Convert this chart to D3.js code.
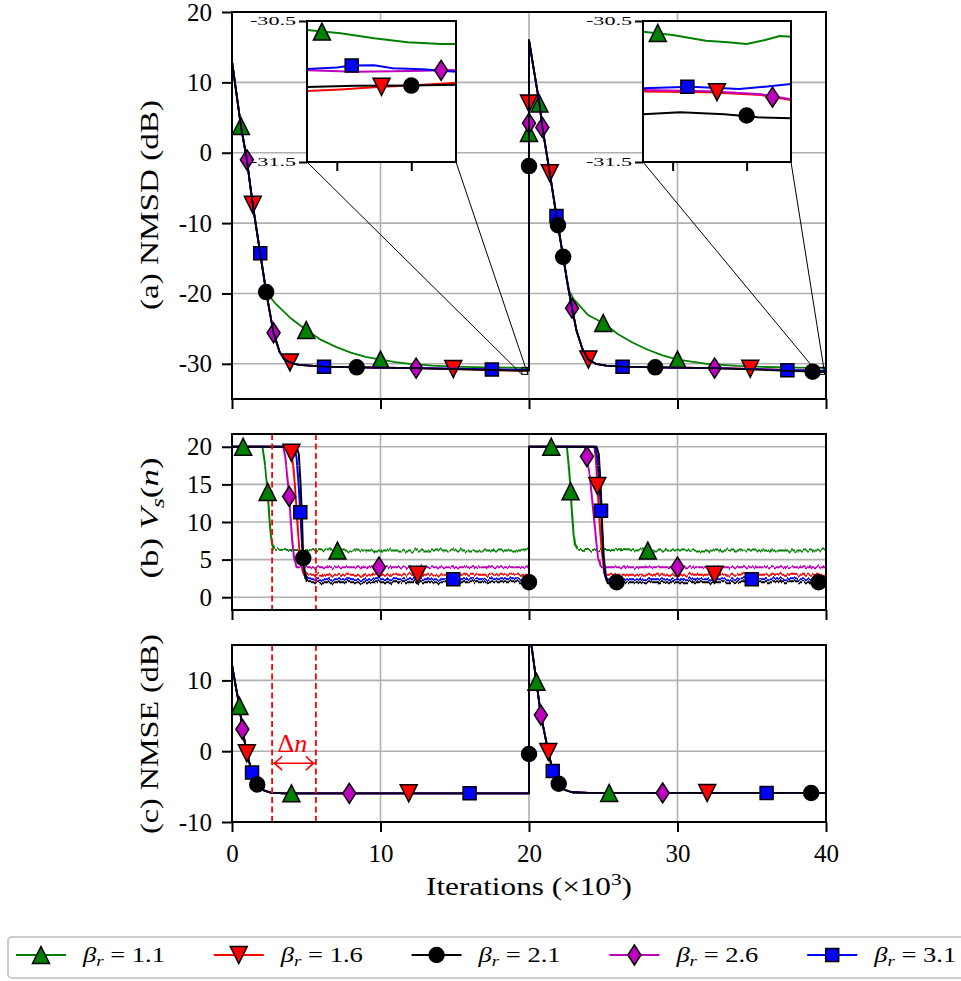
<!DOCTYPE html>
<html>
<head>
<meta charset="utf-8">
<script src="https://cdn.jsdelivr.net/npm/d3@7"></script>
<style>
  body { margin: 0; background: #ffffff; }
  svg { display: block; }
</style>
</head>
<body>
<svg id="chart" width="961" height="981"></svg>
<script>
// ---------- series identity ----------
const BETA_LABELS = ["1.1", "1.6", "2.1", "2.6", "3.1"];
const COLORS = ["#008000", "#ff0000", "#000000", "#bf00bf", "#0000ff"];
const MARKERS = ["up", "down", "circle", "diamond", "square"];
const DRAW_ORDER = [0, 1, 3, 4, 2];

// ---------- ticks ----------
const ITER_TICKS = [0, 10, 20, 30, 40];
const NMSD_TICKS = [-30, -20, -10, 0, 10, 20];
const VS_TICKS = [0, 5, 10, 15, 20];
const NMSE_TICKS = [-10, 0, 10];
const INSET_Y_TICKS = [-30.5, -31.5];
const INSET_LEFT_X_TICKS = [19.6, 19.8];
const INSET_RIGHT_X_TICKS = [39.6, 39.8];
const DELTA_N_BOUNDS = [2.7, 5.65];

// ---------- (a) NMSD, x in thousands of iterations ----------
const nmsdDecayFirst = [[0,13.0],[0.3,8.4],[0.6,3.8],[1.0,-1.0],[1.4,-7.4],[1.9,-14.3],[2.3,-19.8],[2.8,-25.6],[3.2,-28.3],[3.5,-29.3],[3.9,-29.8],[4.5,-30.15],[5.5,-30.3],[6.2,-30.4],[8.4,-30.5],[10,-30.55],[12.4,-30.6]];
const nmsdDecaySecond = [[20,16.0],[20.35,11.5],[20.7,7.0],[20.9,3.6],[21.4,-2.9],[21.85,-9.0],[21.95,-10.3],[22.3,-14.8],[22.6,-18.7],[22.9,-22.1],[23.2,-25.3],[23.6,-27.9],[24.0,-29.4],[24.5,-30.0],[25.2,-30.25],[26.3,-30.4],[28.5,-30.5],[30,-30.55],[32.5,-30.6]];

const nmsdTailFirstRed = [[14.9,-30.75],[17.5,-30.9],[19.52,-31.0],[19.92,-30.94],[20,-30.94]];
const nmsdTailFirstBlack = [[15,-30.75],[17.5,-30.88],[19.52,-30.97],[19.92,-30.95],[20,-30.95]];
const nmsdTailFirstMagenta = [[15,-30.7],[17.5,-30.8],[19.52,-30.85],[19.92,-30.85],[20,-30.85]];
const nmsdTailFirstBlue = [[15,-30.7],[17.5,-30.8],[19.52,-30.84],[19.92,-30.86],[20,-30.86]];
const nmsdTailSecondRed = [[34.9,-30.7],[37.4,-30.85],[39.52,-31.0],[39.92,-31.06],[40,-31.06]];
const nmsdTailSecondBlack = [[35,-30.8],[37.4,-31.0],[39.1,-31.12],[39.52,-31.16],[39.92,-31.19],[40,-31.19]];
const nmsdTailSecondMagenta = [[35,-30.75],[37.4,-30.9],[39.52,-30.99],[39.92,-31.055],[40,-31.055]];
const nmsdTailSecondBlue = [[35,-30.75],[37.4,-30.9],[39.52,-30.98],[39.92,-30.95],[40,-30.95]];

const nmsdGreen = [[0,13.0],[0.3,8.4],[0.6,3.8],[1.0,-1.0],[1.4,-7.4],[1.9,-14.3],[2.3,-19.6],[2.6,-20.6],[3.0,-21.6],[4.0,-23.6],[5.0,-25.2],[6,-26.6],[7,-27.6],[8,-28.4],[9,-29.0],[10,-29.4],[11,-29.75],[12,-30.0],[13.5,-30.25],[15,-30.4],[17,-30.5],[19.52,-30.564],[19.92,-30.663],[20,-30.66],
  [20,16.0],[20.35,11.5],[20.7,7.0],[20.9,3.6],[21.4,-2.9],[21.9,-9.6],[22.3,-14.8],[22.7,-19.6],[23.0,-20.8],[24.0,-23.1],[25.0,-24.2],[26,-25.8],[27,-27.0],[28,-28.0],[29,-28.8],[30,-29.4],[32,-30.0],[34,-30.3],[36,-30.45],[38,-30.55],[39.52,-30.576],[39.92,-30.611],[40,-30.61]];
const nmsdRed = [...nmsdDecayFirst, ...nmsdTailFirstRed, ...nmsdDecaySecond, ...nmsdTailSecondRed];
const nmsdBlack = [...nmsdDecayFirst, ...nmsdTailFirstBlack, ...nmsdDecaySecond, ...nmsdTailSecondBlack];
const nmsdMagenta = [...nmsdDecayFirst, ...nmsdTailFirstMagenta, ...nmsdDecaySecond, ...nmsdTailSecondMagenta];
const nmsdBlue = [...nmsdDecayFirst, ...nmsdTailFirstBlue, ...nmsdDecaySecond, ...nmsdTailSecondBlue];

const nmsdMarksGreen = [[0.6,3.8],[5.0,-25.2],[10.0,-29.4],[20,2.8],[20.7,7.0],[25.0,-24.2],[30.0,-29.4]];
const nmsdMarksRed = [[1.4,-7.4],[3.9,-29.8],[14.9,-30.75],[20,7.0],[21.4,-2.9],[24.0,-29.4],[34.9,-30.7]];
const nmsdMarksBlack = [[2.3,-19.8],[8.4,-30.5],[20,-1.9],[21.95,-10.3],[22.3,-14.8],[28.5,-30.5],[39.1,-31.12]];
const nmsdMarksMagenta = [[1.0,-1.0],[2.8,-25.6],[12.4,-30.6],[20,4.2],[20.9,3.6],[22.9,-22.1],[32.5,-30.6]];
const nmsdMarksBlue = [[1.9,-14.3],[6.2,-30.4],[17.5,-30.8],[21.85,-9.0],[26.3,-30.4],[37.4,-30.9]];

// ---------- (a) zoomed windows ----------
const zoomLeftGreen = [[19.52,-30.564],[19.61,-30.587],[19.70,-30.623],[19.79,-30.651],[19.88,-30.663],[19.92,-30.663]];
const zoomLeftRed = [[19.52,-30.996],[19.61,-30.985],[19.71,-30.968],[19.81,-30.955],[19.92,-30.938]];
const zoomLeftBlack = [[19.52,-30.968],[19.65,-30.96],[19.80,-30.958],[19.92,-30.952]];
const zoomLeftMagenta = [[19.52,-30.85],[19.65,-30.86],[19.80,-30.855],[19.92,-30.848]];
const zoomLeftBlue = [[19.52,-30.84],[19.60,-30.83],[19.64,-30.815],[19.70,-30.814],[19.75,-30.835],[19.83,-30.843],[19.92,-30.86]];
const zoomLeftMarks = [[[19.56,-30.575]],[[19.72,-30.967]],[[19.80,-30.958]],[[19.88,-30.85]],[[19.64,-30.815]]];

const zoomRightGreen = [[39.52,-30.576],[39.60,-30.599],[39.69,-30.64],[39.75,-30.651],[39.80,-30.663],[39.85,-30.635],[39.89,-30.606],[39.92,-30.611]];
const zoomRightRed = [[39.52,-31.0],[39.70,-31.005],[39.84,-31.025],[39.92,-31.06]];
const zoomRightBlack = [[39.52,-31.162],[39.62,-31.148],[39.74,-31.162],[39.83,-31.183],[39.92,-31.19]];
const zoomRightMagenta = [[39.52,-30.99],[39.70,-30.999],[39.84,-31.02],[39.92,-31.055]];
const zoomRightBlue = [[39.52,-30.977],[39.65,-30.966],[39.78,-30.982],[39.85,-30.966],[39.92,-30.947]];
const zoomRightMarks = [[[39.56,-30.585]],[[39.72,-31.005]],[[39.80,-31.17]],[[39.87,-31.04]],[[39.64,-30.967]]];

// ---------- (b) V_s(n) ----------
const vsGreen = [[0,20],[0.75,20],[2.05,20],[2.2,18],[2.4,14.0],[2.5,11],[2.6,8.5],[2.7,7],[2.85,6.3],[7.1,6.2],[20,6.2],[20,20],[21.5,20],[22.55,20],[22.7,17],[22.8,14.1],[22.9,11],[23.0,8.5],[23.1,7],[23.25,6.3],[28.0,6.2],[40,6.2]];
const vsRed = [[0,20],[3.85,20],[4.0,19.2],[4.15,17],[4.3,13],[4.45,8.5],[4.6,5],[4.75,3.4],[4.9,3.0],[12.5,3.0],[20,3.0],[20,20],[24.4,20],[24.5,18.5],[24.6,14.8],[24.75,10],[24.9,6],[25.05,3.6],[25.2,3.0],[32.5,3.0],[40,3.0]];
const vsBlack = [[0,20],[4.35,20],[4.5,19],[4.62,15],[4.72,10],[4.8,5.2],[4.9,3.2],[5.05,2.0],[20,2.0],[20,20],[24.55,20],[24.7,19],[24.82,15],[24.92,10],[25.0,5.5],[25.12,3],[25.3,2.0],[25.9,2.0],[39.5,2.0],[40,2.0]];
const vsMagenta = [[0,20],[3.45,20],[3.6,18.5],[3.75,15.5],[3.85,13.4],[3.95,10.5],[4.05,7.5],[4.2,5],[4.35,4.0],[9.9,4.0],[20,4.0],[20,20],[23.75,20],[23.9,18.7],[24.1,16],[24.3,12],[24.5,8],[24.65,5.3],[24.85,4.0],[30.0,4.0],[40,4.0]];
const vsBlue = [[0,20],[4.2,20],[4.35,18.5],[4.5,14.5],[4.6,11.3],[4.7,7.5],[4.8,4.5],[4.95,2.6],[5.05,2.4],[14.9,2.4],[20,2.4],[20,20],[24.45,20],[24.6,18.5],[24.75,14.5],[24.85,11.5],[24.95,8],[25.05,5],[25.2,2.6],[25.3,2.4],[35.0,2.4],[40,2.4]];

const vsMarksGreen = [[0.75,20],[2.4,14.0],[7.1,6.2],[21.5,20],[22.8,14.1],[28.0,6.2]];
const vsMarksRed = [[4.0,19.2],[12.5,3.0],[24.6,14.8],[32.5,3.0]];
const vsMarksBlack = [[4.8,5.2],[20,2.0],[25.9,2.0],[39.5,2.0]];
const vsMarksMagenta = [[3.85,13.4],[9.9,4.0],[23.9,18.7],[30.0,4.0]];
const vsMarksBlue = [[4.6,11.3],[14.9,2.4],[24.85,11.5],[35.0,2.4]];

// ---------- (c) NMSE ----------
const nmseCurve = [[0,12.2],[0.25,9.2],[0.5,6.4],[0.7,3.1],[1.0,-0.3],[1.35,-3.0],[1.7,-4.7],[2.1,-5.5],[2.6,-5.85],[3.5,-5.95],[20,-5.95],[20,17.5],[20.5,9.8],[20.8,5.1],[21.3,-0.1],[21.6,-2.8],[22.0,-4.6],[22.4,-5.45],[22.9,-5.8],[24,-5.9],[40,-5.9]];
const nmseMarksGreen = [[0.5,6.4],[4.0,-5.95],[20.5,9.8],[25.4,-5.9]];
const nmseMarksRed = [[1.0,-0.3],[11.9,-5.95],[21.3,-0.1],[32.0,-5.9]];
const nmseMarksBlack = [[1.7,-4.7],[20,-0.4],[22.0,-4.6],[39.0,-5.9]];
const nmseMarksMagenta = [[0.7,3.1],[7.9,-5.95],[20.8,5.1],[29.0,-5.9]];
const nmseMarksBlue = [[1.35,-3.0],[16.0,-5.95],[21.6,-2.8],[36.0,-5.9]];

// ---------- drawing ----------
const FONT = "'Liberation Serif','Times New Roman',serif";
const svg = d3.select("#chart");
const defs = svg.append("defs");

const x = d3.scaleLinear().domain([0, 40]).range([232, 826]);
const panelA = { id: "pa", top: 12, bottom: 399, y: d3.scaleLinear().domain([-35, 20]).range([399, 12]), ticks: NMSD_TICKS };
const panelB = { id: "pb", top: 434, bottom: 610, y: d3.scaleLinear().domain([-1.7, 21.7]).range([610, 434]), ticks: VS_TICKS };
const panelC = { id: "pc", top: 645, bottom: 822, y: d3.scaleLinear().domain([-10, 15]).range([822, 645]), ticks: NMSE_TICKS };

function markerPath(kind) {
  switch (kind) {
    case "up": return "M0,-8.5L8.5,8.5L-8.5,8.5Z";
    case "down": return "M0,8.5L8.5,-8.5L-8.5,-8.5Z";
    case "circle": return d3.symbol(d3.symbolCircle, Math.PI * 7.5 * 7.5)();
    case "diamond": return "M0,-10L6.5,0L0,10L-6.5,0Z";
    default: return "M-6.5,-6.5H6.5V6.5H-6.5Z";
  }
}

function drawMarkers(g, pts, xs, ys, i) {
  g.append("g").selectAll("path").data(pts).join("path")
    .attr("d", markerPath(MARKERS[i]))
    .attr("transform", d => `translate(${xs(d[0])},${ys(d[1])})`)
    .attr("fill", COLORS[i]).attr("stroke", "#000").attr("stroke-width", 1.5)
    .attr("stroke-linejoin", "miter");
}

function panelBase(p) {
  defs.append("clipPath").attr("id", p.id + "clip").append("rect")
    .attr("x", x(0)).attr("y", p.top).attr("width", x(40) - x(0)).attr("height", p.bottom - p.top);
  const grid = svg.append("g").attr("stroke", "#b0b0b0").attr("stroke-width", 1.6);
  grid.selectAll(".gx").data(ITER_TICKS).join("line").attr("class", "gx")
    .attr("x1", d => x(d)).attr("x2", d => x(d)).attr("y1", p.top).attr("y2", p.bottom);
  grid.selectAll(".gy").data(p.ticks).join("line").attr("class", "gy")
    .attr("x1", x(0)).attr("x2", x(40)).attr("y1", d => p.y(d)).attr("y2", d => p.y(d));
  return svg.append("g").attr("clip-path", `url(#${p.id}clip)`);
}

function panelAxes(p, showXLabels, label, labelLen) {
  svg.append("rect").attr("x", x(0)).attr("y", p.top).attr("width", x(40) - x(0)).attr("height", p.bottom - p.top)
    .attr("fill", "none").attr("stroke", "#000").attr("stroke-width", 2);
  const ay = svg.append("g").attr("transform", `translate(${x(0)},0)`)
    .call(d3.axisLeft(p.y).tickValues(p.ticks).tickSize(10).tickPadding(10).tickFormat(d => String(d)));
  const ax = svg.append("g").attr("transform", `translate(0,${p.bottom})`)
    .call(d3.axisBottom(x).tickValues(ITER_TICKS).tickSize(10).tickPadding(12).tickFormat(showXLabels ? (d => String(d)) : () => ""));
  [ay, ax].forEach(a => {
    a.select(".domain").remove();
    a.attr("font-family", FONT).attr("font-size", 25);
    a.selectAll("line").attr("stroke", "#000").attr("stroke-width", 2);
    a.selectAll("text").attr("fill", "#000");
  });
  const t = svg.append("text")
    .attr("transform", `translate(158,${label.cy}) rotate(-90)`)
    .attr("text-anchor", "middle").attr("font-family", FONT).attr("font-size", 25)
    .attr("textLength", labelLen).attr("lengthAdjust", "spacingAndGlyphs");
  label.parts.forEach(pt => {
    const s = t.append("tspan").text(pt.t);
    if (pt.i) s.attr("font-style", "italic");
    if (pt.sub) s.attr("font-size", 18).attr("dy", 6);
    if (pt.up) s.attr("dy", -6);
  });
}

// ---- panel (a)
const ga = panelBase(panelA);
const lineA = d3.line().x(d => x(d[0])).y(d => panelA.y(d[1]));
const nmsdLines = [nmsdGreen, nmsdRed, nmsdBlack, nmsdMagenta, nmsdBlue];
const nmsdMarks = [nmsdMarksGreen, nmsdMarksRed, nmsdMarksBlack, nmsdMarksMagenta, nmsdMarksBlue];
DRAW_ORDER.forEach(i => {
  ga.append("path").attr("d", lineA(nmsdLines[i])).attr("fill", "none")
    .attr("stroke", COLORS[i]).attr("stroke-width", 1.8).attr("stroke-linejoin", "round");
  drawMarkers(ga, nmsdMarks[i], x, panelA.y, i);
});
panelAxes(panelA, false, { cy: 205, parts: [{ t: "(a) NMSD (dB)" }] }, 210);

// zoomed windows with their connectors
const insets = [
  { x0: 307, x1: 456, dom: [19.52, 19.92], ticks: INSET_LEFT_X_TICKS,
    lines: [zoomLeftGreen, zoomLeftRed, zoomLeftBlack, zoomLeftMagenta, zoomLeftBlue], marks: zoomLeftMarks },
  { x0: 643, x1: 791, dom: [39.52, 39.92], ticks: INSET_RIGHT_X_TICKS,
    lines: [zoomRightGreen, zoomRightRed, zoomRightBlack, zoomRightMagenta, zoomRightBlue], marks: zoomRightMarks }
];
const insetTop = 21, insetBottom = 162;
insets.forEach((ins, k) => {
  const rx0 = x(ins.dom[0]), rx1 = x(ins.dom[1]);
  const ry0 = panelA.y(-30.5), ry1 = panelA.y(-31.5);
  svg.append("rect").attr("x", rx0).attr("y", ry0).attr("width", rx1 - rx0).attr("height", ry1 - ry0)
    .attr("fill", "none").attr("stroke", "#000").attr("stroke-width", 1);
  svg.append("line").attr("x1", ins.x0).attr("y1", insetBottom).attr("x2", rx0).attr("y2", ry1)
    .attr("stroke", "#000").attr("stroke-width", 1);
  svg.append("line").attr("x1", ins.x1).attr("y1", insetBottom).attr("x2", rx1).attr("y2", ry1)
    .attr("stroke", "#000").attr("stroke-width", 1);

  const xi = d3.scaleLinear().domain(ins.dom).range([ins.x0, ins.x1]);
  const yi = d3.scaleLinear().domain([-31.5, -30.5]).range([insetBottom, insetTop]);
  svg.append("rect").attr("x", ins.x0).attr("y", insetTop).attr("width", ins.x1 - ins.x0).attr("height", insetBottom - insetTop)
    .attr("fill", "#fff");
  defs.append("clipPath").attr("id", "inset" + k).append("rect")
    .attr("x", ins.x0).attr("y", insetTop).attr("width", ins.x1 - ins.x0).attr("height", insetBottom - insetTop);
  const gi = svg.append("g").attr("clip-path", `url(#inset${k})`);
  const li = d3.line().x(d => xi(d[0])).y(d => yi(d[1]));
  DRAW_ORDER.forEach(i => {
    gi.append("path").attr("d", li(ins.lines[i])).attr("fill", "none")
      .attr("stroke", COLORS[i]).attr("stroke-width", 2).attr("stroke-linejoin", "round");
  });
  DRAW_ORDER.forEach(i => drawMarkers(gi, ins.marks[i], xi, yi, i));
  svg.append("rect").attr("x", ins.x0).attr("y", insetTop).attr("width", ins.x1 - ins.x0).attr("height", insetBottom - insetTop)
    .attr("fill", "none").attr("stroke", "#000").attr("stroke-width", 2);
  const iy = svg.append("g").attr("transform", `translate(${ins.x0},0)`)
    .call(d3.axisLeft(yi).tickValues(INSET_Y_TICKS).tickSize(8).tickPadding(3).tickFormat(d => d.toFixed(1)));
  const ix = svg.append("g").attr("transform", `translate(0,${insetBottom})`)
    .call(d3.axisBottom(xi).tickValues(ins.ticks).tickSize(9).tickFormat(() => ""));
  [iy, ix].forEach(a => {
    a.select(".domain").remove();
    a.selectAll("line").attr("stroke", "#000").attr("stroke-width", 2);
  });
  iy.selectAll("text").attr("font-family", FONT).attr("font-size", 12).attr("fill", "#000")
    .attr("textLength", 46).attr("lengthAdjust", "spacingAndGlyphs");
});

// ---- panel (b)
const gb = panelBase(panelB);
const flt = defs.append("filter").attr("id", "vsJitter")
  .attr("x", "-2%").attr("y", "-30%").attr("width", "104%").attr("height", "160%")
  .attr("color-interpolation-filters", "sRGB");
flt.append("feTurbulence").attr("type", "fractalNoise").attr("baseFrequency", "0.35 0.03")
  .attr("numOctaves", 2).attr("seed", 7).attr("result", "noise");
flt.append("feColorMatrix").attr("in", "noise").attr("type", "matrix")
  .attr("values", "0 0 0 0 0.5  0 1 0 0 0  0 0 0 0 0  0 0 0 0 1").attr("result", "shift");
flt.append("feDisplacementMap").attr("in", "SourceGraphic").attr("in2", "shift").attr("scale", 6)
  .attr("xChannelSelector", "R").attr("yChannelSelector", "G");

const splitY = panelB.y(17.5);
defs.append("clipPath").attr("id", "vsUpper").append("rect")
  .attr("x", x(0)).attr("y", panelB.top).attr("width", x(40) - x(0)).attr("height", splitY - panelB.top);
defs.append("clipPath").attr("id", "vsLower").append("rect")
  .attr("x", x(0)).attr("y", splitY).attr("width", x(40) - x(0)).attr("height", panelB.bottom - splitY);

const lineB = d3.line().x(d => x(d[0])).y(d => panelB.y(d[1]));
const vsLines = [vsGreen, vsRed, vsBlack, vsMagenta, vsBlue];
const vsMarks = [vsMarksGreen, vsMarksRed, vsMarksBlack, vsMarksMagenta, vsMarksBlue];
const upper = gb.append("g").attr("clip-path", "url(#vsUpper)");
const lowerOuter = gb.append("g").attr("clip-path", "url(#vsLower)");
const lower = lowerOuter.append("g").attr("filter", "url(#vsJitter)");
DRAW_ORDER.forEach(i => {
  [upper, lower].forEach(g => g.append("path").attr("d", lineB(vsLines[i])).attr("fill", "none")
    .attr("stroke", COLORS[i]).attr("stroke-width", 2).attr("stroke-linejoin", "round"));
});
gb.selectAll(".dn").data(DELTA_N_BOUNDS).join("line").attr("class", "dn")
  .attr("x1", d => x(d)).attr("x2", d => x(d)).attr("y1", panelB.top).attr("y2", panelB.bottom)
  .attr("stroke", "#ff0000").attr("stroke-width", 1.8).attr("stroke-dasharray", "6,3.5");
DRAW_ORDER.forEach(i => drawMarkers(gb, vsMarks[i], x, panelB.y, i));
panelAxes(panelB, false, { cy: 518, parts: [{ t: "(b) " }, { t: "V", i: true }, { t: "s", i: true, sub: true }, { t: "(", up: true }, { t: "n", i: true }, { t: ")" }] }, 121);

// ---- panel (c)
const gc = panelBase(panelC);
const lineC = d3.line().x(d => x(d[0])).y(d => panelC.y(d[1]));
const nmseMarks = [nmseMarksGreen, nmseMarksRed, nmseMarksBlack, nmseMarksMagenta, nmseMarksBlue];
DRAW_ORDER.forEach(i => {
  gc.append("path").attr("d", lineC(nmseCurve)).attr("fill", "none")
    .attr("stroke", COLORS[i]).attr("stroke-width", 1.8).attr("stroke-linejoin", "round");
});
gc.selectAll(".dn").data(DELTA_N_BOUNDS).join("line").attr("class", "dn")
  .attr("x1", d => x(d)).attr("x2", d => x(d)).attr("y1", panelC.top).attr("y2", panelC.bottom)
  .attr("stroke", "#ff0000").attr("stroke-width", 1.8).attr("stroke-dasharray", "6,3.5");
DRAW_ORDER.forEach(i => drawMarkers(gc, nmseMarks[i], x, panelC.y, i));

// Δn annotation between the dashed bounds
const arrowY = panelC.y(-1.7);
const ax0 = x(DELTA_N_BOUNDS[0]) + 2, ax1 = x(DELTA_N_BOUNDS[1]) - 2;
svg.append("path")
  .attr("d", `M${ax0},${arrowY}H${ax1}M${ax0 + 8},${arrowY - 7}Q${ax0 + 2},${arrowY - 1} ${ax0},${arrowY}Q${ax0 + 2},${arrowY + 1} ${ax0 + 8},${arrowY + 7}` +
             `M${ax1 - 8},${arrowY - 7}Q${ax1 - 2},${arrowY - 1} ${ax1},${arrowY}Q${ax1 - 2},${arrowY + 1} ${ax1 - 8},${arrowY + 7}`)
  .attr("fill", "none").attr("stroke", "#ff0000").attr("stroke-width", 1.6);
const dn = svg.append("text").attr("x", x(4.07)).attr("y", panelC.y(-0.1))
  .attr("text-anchor", "middle").attr("font-family", FONT).attr("font-size", 26).attr("fill", "#ff0000");
dn.append("tspan").text("Δ");
dn.append("tspan").attr("font-style", "italic").text("n");

panelAxes(panelC, true, { cy: 734, parts: [{ t: "(c) NMSE (dB)" }] }, 200);

// x-axis title
const xt = svg.append("text").attr("x", x(20)).attr("y", 895).attr("text-anchor", "middle")
  .attr("font-family", FONT).attr("font-size", 25).attr("textLength", 206).attr("lengthAdjust", "spacingAndGlyphs");
xt.append("tspan").text("Iterations (×10");
xt.append("tspan").attr("font-size", 17).attr("dy", -10).text("3");
xt.append("tspan").attr("dy", 10).text(")");

// ---- legend
svg.append("rect").attr("x", 8).attr("y", 937).attr("width", 970).attr("height", 41).attr("rx", 4)
  .attr("fill", "#fff").attr("stroke", "#cccccc").attr("stroke-width", 2);
BETA_LABELS.forEach((lab, i) => {
  const lx = 16 + i * 197.8, ly = 955;
  const g = svg.append("g");
  g.append("line").attr("x1", lx).attr("x2", lx + 50).attr("y1", ly).attr("y2", ly)
    .attr("stroke", COLORS[i]).attr("stroke-width", 2);
  g.append("path").attr("d", markerPath(MARKERS[i])).attr("transform", `translate(${lx + 25},${ly})`)
    .attr("fill", COLORS[i]).attr("stroke", "#000").attr("stroke-width", 1.5);
  const t = g.append("text").attr("x", lx + 67).attr("y", ly + 7).attr("font-family", FONT).attr("font-size", 21)
    .attr("textLength", 82).attr("lengthAdjust", "spacingAndGlyphs");
  t.append("tspan").attr("font-style", "italic").text("β");
  t.append("tspan").attr("font-style", "italic").attr("font-size", 15).attr("dy", 4).text("r");
  t.append("tspan").attr("dy", -4).text(" = " + lab);
});
</script>
</body>
</html>
